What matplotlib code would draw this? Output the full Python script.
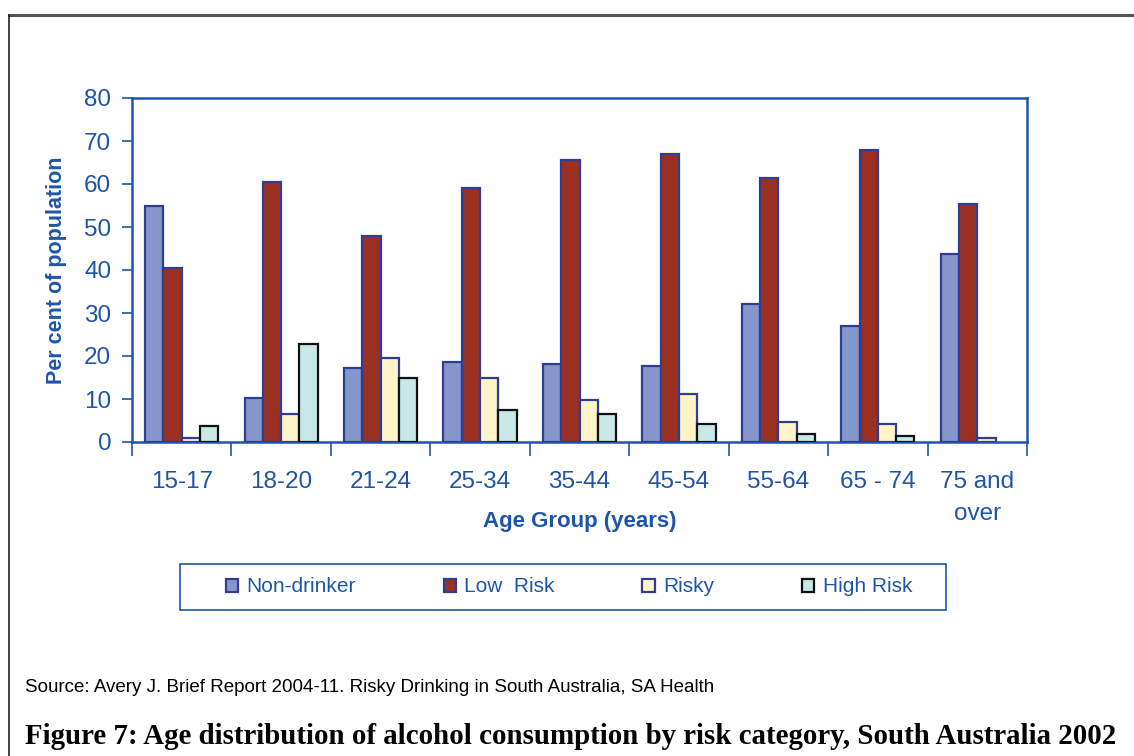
import numpy as np
import matplotlib
matplotlib.use("Agg")
import matplotlib.pyplot as plt
from matplotlib.patches import Rectangle

plt.rcParams['font.family'] = ['Liberation Sans', 'DejaVu Sans']

# data
groups = ['15-17', '18-20', '21-24', '25-34', '35-44', '45-54', '55-64', '65 - 74', '75 and\nover']
non_drinker = [55.0, 10.2, 17.2, 18.6, 18.2, 17.7, 32.1, 27.0, 43.7]
low_risk = [40.5, 60.5, 47.9, 59.1, 65.6, 67.0, 61.4, 67.9, 55.3]
risky = [0.9, 6.6, 19.5, 14.9, 9.8, 11.2, 4.6, 4.1, 0.9]
high_risk = [3.7, 22.8, 14.9, 7.4, 6.5, 4.2, 1.9, 1.4, 0.0]
series_names = ['Non-drinker', 'Low  Risk', 'Risky', 'High Risk']

blue = '#1f55a8'
faces = ['#8596cb', '#993022', '#fff4c8', '#c8e8e8']
edges = ['#2e3f92', '#2e3f92', '#2e3f92', '#111111']

fig = plt.figure(figsize=(11.34, 7.56), dpi=100)
ax = fig.add_axes([132/1134, 1-442/756, (1027-132)/1134, (442-98)/756])

x = np.arange(len(groups))
w = 0.184
data = [non_drinker, low_risk, risky, high_risk]
for i, vals in enumerate(data):
    vals = np.array(vals)
    keep = vals > 0
    ax.bar(x[keep] + (i - 1.5) * w, vals[keep], width=w, color=faces[i], edgecolor=edges[i],
           linewidth=1.6, label=series_names[i], zorder=3)

ax.set_xlim(-0.5, len(groups) - 0.5)
ax.set_ylim(0, 80)
ax.set_yticks(np.arange(0, 81, 10))
ax.set_xticks(np.arange(len(groups) + 1) - 0.5)
ax.set_xticklabels([])
ax.set_xticks(x, minor=True)
ax.set_xticklabels(groups, minor=True)
ax.tick_params(axis='x', which='major', direction='out', length=10, width=1.2, color=blue)
ax.tick_params(axis='x', which='minor', length=0, pad=21, labelsize=17.5, labelcolor=blue)
ax.tick_params(axis='y', direction='out', length=7, width=1.2, color=blue,
               labelsize=17.5, labelcolor=blue, pad=8)
for lab in ax.get_xticklabels(minor=True):
    lab.set_verticalalignment('top')
    lab.set_linespacing(1.6)
for s in ax.spines.values():
    s.set_color(blue)
    s.set_linewidth(1.8)

ax.set_ylabel('Per cent of population', fontsize=15.5, fontweight='bold', color=blue, labelpad=12)
fig.text((132+1027)/2/1134, 1-521/756, 'Age Group (years)', fontsize=16, fontweight='bold',
         color=blue, ha='center', va='center')

# legend box drawn separately so it spans the same width as the original
fig.add_artist(Rectangle((180/1134, 1-610/756), (946-180)/1134, 46/756, transform=fig.transFigure,
                         facecolor='white', edgecolor=blue, linewidth=1.2))
leg = fig.legend(loc='center', bbox_to_anchor=((180+946)/2/1134 + 6/1134, 1-587/756),
                 ncol=4, fontsize=15, frameon=False, handlelength=0.6,
                 handleheight=0.6, columnspacing=4.2, handletextpad=0.4)
for t in leg.get_texts():
    t.set_color(blue)

# outer frame lines (top and left)
fig.add_artist(plt.Line2D([9/1134, 1.0], [1-15/756, 1-15/756], color='#555555', lw=2.2))
fig.add_artist(plt.Line2D([9/1134, 9/1134], [0.0, 1-15/756], color='#222222', lw=1.2))

fig.text(25/1134, 1-688/756, 'Source: Avery J. Brief Report 2004-11. Risky Drinking in South Australia, SA Health',
         fontsize=13.5, color='black', va='center', ha='left')
fig.text(25/1134, 1-737/756, 'Figure 7: Age distribution of alcohol consumption by risk category, South Australia 2002',
         fontsize=20.8, fontweight='bold', family=['Liberation Serif', 'DejaVu Serif'],
         color='black', va='center', ha='left')

fig.savefig('out.png', dpi=100)
